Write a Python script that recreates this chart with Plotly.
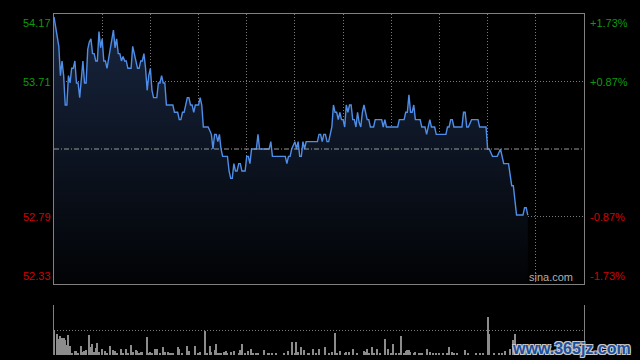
import plotly.graph_objects as go

# ---- intraday price (minute index from 09:30, HK session = 330 minutes) ----
minutes = [0, 2, 3, 4, 5, 6, 7, 8, 9, 10, 11, 12, 13, 14, 15, 16, 17, 18, 19, 20,
           21, 22, 23, 24, 25, 26, 27, 28, 29, 30, 31, 32, 33, 34, 35, 36, 37, 38, 39, 40,
           41, 42, 43, 44, 45, 46, 48, 49, 50, 52, 53, 54, 55, 56, 57, 58, 59, 60, 61, 62,
           64, 65, 66, 67, 68, 69, 70, 74, 75, 77, 78, 79, 80, 81, 83, 84, 85, 86, 87, 88,
           90, 91, 92, 93, 96, 98, 99, 100, 101, 102, 103, 104, 105, 108, 109, 110, 111, 112, 113, 114,
           115, 116, 117, 119, 120, 121, 122, 123, 126, 127, 128, 134, 135, 136, 144, 145, 146, 147, 148, 149,
           150, 151, 152, 153, 154, 155, 156, 157, 164, 165, 166, 167, 168, 169, 170, 171, 173, 174, 175, 176,
           177, 178, 179, 180, 181, 182, 183, 184, 185, 186, 187, 188, 189, 190, 191, 192, 193, 195, 196, 197,
           199, 200, 204, 205, 206, 207, 214, 215, 218, 219, 220, 221, 222, 223, 224, 225, 228, 229, 231, 232,
           233, 234, 235, 237, 238, 244, 245, 246, 247, 248, 249, 254, 255, 256, 257, 258, 260, 264, 265, 269,
           270, 271, 273, 276, 278, 280, 283, 285, 286, 288, 292, 293, 294, 295]
prices = [54.15, 54.00, 53.95, 53.75, 53.85, 53.75, 53.55, 53.55, 53.75, 53.70, 53.80, 53.80, 53.85, 53.70, 53.70, 53.60, 53.75, 53.85, 53.70, 53.70,
          53.93, 53.98, 54.00, 53.90, 53.90, 53.85, 53.85, 54.05, 53.94, 54.00, 53.85, 53.85, 53.80, 53.86, 53.93, 53.98, 54.06, 53.94, 54.00, 53.90,
          53.90, 53.85, 53.88, 53.85, 53.85, 53.80, 53.80, 53.95, 53.90, 53.80, 53.80, 53.85, 53.85, 53.90, 53.80, 53.65, 53.75, 53.80, 53.65, 53.60,
          53.60, 53.70, 53.70, 53.75, 53.70, 53.70, 53.55, 53.55, 53.50, 53.50, 53.45, 53.45, 53.50, 53.50, 53.60, 53.60, 53.55, 53.55, 53.50, 53.55,
          53.55, 53.60, 53.55, 53.40, 53.40, 53.35, 53.25, 53.35, 53.35, 53.30, 53.35, 53.25, 53.20, 53.20, 53.10, 53.05, 53.05, 53.15, 53.10, 53.10,
          53.15, 53.15, 53.10, 53.10, 53.20, 53.20, 53.15, 53.25, 53.25, 53.35, 53.25, 53.25, 53.30, 53.20, 53.20, 53.15, 53.20, 53.20, 53.25, 53.27,
          53.30, 53.25, 53.30, 53.20, 53.20, 53.30, 53.25, 53.30, 53.30, 53.35, 53.35, 53.30, 53.35, 53.35, 53.30, 53.30, 53.40, 53.55, 53.50, 53.50,
          53.45, 53.50, 53.45, 53.45, 53.40, 53.55, 53.50, 53.55, 53.55, 53.45, 53.45, 53.40, 53.50, 53.43, 53.40, 53.50, 53.55, 53.45, 53.45, 53.40,
          53.40, 53.45, 53.45, 53.40, 53.45, 53.40, 53.40, 53.45, 53.45, 53.50, 53.50, 53.62, 53.50, 53.50, 53.55, 53.45, 53.45, 53.40, 53.40, 53.35,
          53.40, 53.45, 53.40, 53.40, 53.35, 53.35, 53.40, 53.40, 53.45, 53.45, 53.40, 53.40, 53.50, 53.50, 53.40, 53.40, 53.45, 53.45, 53.40, 53.40,
          53.25, 53.25, 53.20, 53.20, 53.25, 53.15, 53.15, 53.00, 53.00, 52.80, 52.80, 52.85, 52.85, 52.80]
assert len(minutes) == len(prices)

# ---- volume bars ----
vol_minutes = [0, 2, 3, 4, 5, 6, 7, 8, 9, 10, 11, 13, 14, 15, 17, 18, 19, 20, 22, 23,
               24, 25, 26, 27, 28, 30, 32, 33, 35, 37, 38, 39, 42, 43, 45, 46, 48, 49, 51, 52,
               53, 54, 55, 58, 59, 60, 61, 63, 64, 66, 68, 69, 71, 72, 73, 74, 77, 78, 80, 83,
               84, 88, 90, 91, 94, 95, 97, 98, 100, 101, 102, 103, 104, 106, 107, 108, 110, 112, 115, 116,
               117, 119, 121, 123, 124, 126, 127, 131, 133, 134, 136, 138, 143, 146, 148, 150, 151, 152, 154, 156,
               158, 159, 161, 163, 165, 169, 171, 173, 175, 176, 178, 181, 182, 184, 186, 189, 193, 194, 195, 196,
               198, 199, 201, 203, 206, 208, 210, 211, 213, 215, 216, 218, 219, 220, 221, 222, 224, 225, 227, 228,
               229, 232, 234, 236, 238, 240, 242, 245, 246, 248, 249, 251, 256, 258, 263, 265, 267, 270, 271, 274,
               277, 279, 281, 284, 286, 287, 289, 291, 293, 295]
volumes = [75, 65, 48, 59, 51, 51, 47, 30, 62, 27, 7, 12, 12, 7, 27, 10, 12, 15, 60, 25,
           35, 10, 20, 36, 10, 17, 12, 7, 27, 15, 12, 5, 17, 7, 17, 5, 30, 10, 15, 12,
           7, 9, 9, 54, 7, 10, 7, 17, 17, 5, 24, 10, 10, 5, 5, 5, 23, 17, 7, 27,
           12, 27, 5, 10, 72, 5, 27, 10, 15, 33, 5, 5, 5, 10, 12, 7, 9, 12, 5, 15,
           33, 5, 12, 17, 7, 7, 5, 15, 7, 5, 7, 5, 5, 12, 39, 5, 39, 10, 25, 15,
           5, 5, 17, 5, 17, 23, 7, 10, 68, 5, 12, 7, 9, 10, 17, 7, 12, 10, 17, 7,
           23, 7, 17, 5, 50, 17, 5, 33, 7, 5, 57, 5, 12, 15, 15, 10, 7, 10, 7, 7,
           5, 17, 9, 5, 5, 5, 5, 5, 24, 9, 5, 5, 15, 5, 5, 5, 5, 115, 65, 5,
           5, 5, 12, 17, 45, 63, 30, 18, 12, 8]
assert len(vol_minutes) == len(volumes)

prev_close = 53.25
price_ticks = [54.17, 53.71, 52.79, 52.33]
price_labels = ["54.17", "53.71", "52.79", "52.33"]
pct_labels = ["+1.73%", "+0.87%", "-0.87%", "-1.73%"]
time_grid = [30, 60, 90, 120, 150, 180, 210, 240, 270, 300]

GREEN = "#0e9a0e"
RED = "#d40000"
GRID = "#7a7a7a"
FRAME = "#808080"

fig = go.Figure()

fig.add_trace(go.Scatter(
    x=minutes, y=prices, mode="lines",
    line=dict(color="#4f8ee8", width=1.4),
    fill="tozeroy",
    fillgradient=dict(type="vertical",
                      colorscale=[[0, "rgb(2,3,5)"], [1, "rgb(24,38,64)"]],
                      start=price_ticks[-1], stop=price_ticks[0]),
    xaxis="x", yaxis="y", hoverinfo="skip", showlegend=False,
))

fig.add_trace(go.Bar(
    x=vol_minutes, y=volumes, width=0.7,
    marker=dict(color="#8c8c8c", line=dict(width=0)),
    xaxis="x2", yaxis="y2", hoverinfo="skip", showlegend=False,
))

main_bottom = 71 / 341
vol_top = 50 / 341

fig.update_layout(
    width=640, height=360,
    margin=dict(l=54, r=56, t=14, b=5),
    paper_bgcolor="black", plot_bgcolor="black",
    hovermode=False, bargap=0,
    font=dict(family="Liberation Sans, Arial, sans-serif"),
    xaxis=dict(domain=[0, 1], range=[0, 330], tickvals=time_grid, showticklabels=False,
               showgrid=True, gridcolor=GRID, griddash="1px,2px", gridwidth=1,
               showline=True, mirror=True, linecolor=FRAME, linewidth=1,
               zeroline=False, ticks="", anchor="y", fixedrange=True),
    yaxis=dict(domain=[main_bottom, 1], range=[price_ticks[-1], price_ticks[0]],
               tickvals=[price_ticks[1], price_ticks[2]], showticklabels=False,
               showgrid=True, gridcolor=GRID, griddash="1px,2px", gridwidth=1,
               showline=True, mirror=True, linecolor=FRAME, linewidth=1,
               zeroline=False, ticks="", anchor="x"),
    xaxis2=dict(domain=[0, 1], range=[0, 330], showticklabels=False, showgrid=False,
                showline=False, zeroline=False, ticks="", anchor="y2"),
    yaxis2=dict(domain=[0, vol_top], range=[0, 153], tickvals=[76.5, 153],
                showticklabels=False, showgrid=True, gridcolor=GRID,
                griddash="1px,2px", gridwidth=1,
                showline=True, mirror=True, linecolor=FRAME, linewidth=1,
                zeroline=False, ticks="", anchor="x2"),
)

# previous close dash-dot line
fig.add_shape(type="line", xref="x", yref="y", x0=0, x1=330, y0=prev_close, y1=prev_close,
              line=dict(color="#9a9a9a", width=1, dash="5px,2px,1px,2px"))

anchors = ["top", "middle", "middle", "bottom"]
colors = [GREEN, GREEN, RED, RED]
shifts = {"top": -1, "middle": 0, "bottom": 0}
for val, lab, pct, ya, col in zip(price_ticks, price_labels, pct_labels, anchors, colors):
    fig.add_annotation(x=0, xref="x domain", y=val, yref="y", text=lab, showarrow=False,
                       xanchor="right", yanchor=ya, xshift=-1, yshift=shifts[ya],
                       font=dict(size=11, color=col))
    fig.add_annotation(x=1, xref="x domain", y=val, yref="y", text=pct, showarrow=False,
                       xanchor="left", yanchor=ya, xshift=4, yshift=shifts[ya],
                       font=dict(size=11, color=col))

fig.add_annotation(x=0.983, xref="x domain", y=price_ticks[-1], yref="y", text="sina.com",
                   showarrow=False, xanchor="right", yanchor="bottom", yshift=-1,
                   font=dict(size=11, color="#b0b0b0"))

fig.add_annotation(x=(633 - 54) / 530, xref="paper", y=0, yref="paper", text="<b>www.365jz.com</b>",
                   showarrow=False, xanchor="right", yanchor="bottom", yshift=-4,
                   font=dict(size=16, color="#1d4f9e",
                             shadow="1px 1px 0 #c8c8c8, -1px -1px 0 #c8c8c8, 1px -1px 0 #c8c8c8, -1px 1px 0 #c8c8c8"))

fig.write_html("out.html", config={"displayModeBar": False},
               post_script="document.body.style.margin='0';")
